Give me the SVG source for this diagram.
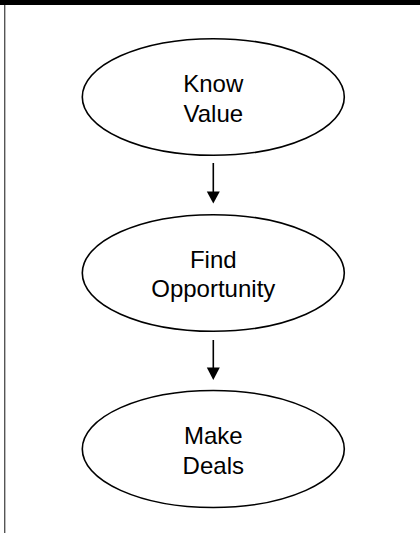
<svg xmlns="http://www.w3.org/2000/svg" width="420" height="533" viewBox="0 0 420 533">
<defs>
<style>
.node ellipse{fill:#fff;stroke:#000;stroke-width:1.6}
.node text{font-family:"Liberation Sans",Arial,sans-serif;font-size:24px;fill:#000;text-anchor:middle}
.conn line{stroke:#000;stroke-width:1.6}
.conn polygon{fill:#000}
</style>
</defs>
<rect x="0" y="0" width="420" height="533" fill="#fff"/>
<rect x="0" y="0" width="420" height="5" fill="#000"/>
<rect x="4" y="5" width="1.4" height="528" fill="#555"/>
<g id="know-value" class="node">
<ellipse cx="213.3" cy="97" rx="131" ry="58.3"/>
<text x="213.3" y="92.3">Know</text>
<text x="213.3" y="121.7">Value</text>
</g>
<g id="find-opportunity" class="node">
<ellipse cx="213.3" cy="273" rx="131" ry="58.3"/>
<text x="213.3" y="268">Find</text>
<text x="213.3" y="297.4">Opportunity</text>
</g>
<g id="make-deals" class="node">
<ellipse cx="213.3" cy="449" rx="131" ry="58.5"/>
<text x="213.3" y="444.3">Make</text>
<text x="213.3" y="473.7">Deals</text>
</g>
<g id="connectors" class="conn">
<line x1="213.3" y1="163" x2="213.3" y2="193"/>
<polygon points="206.8,191.5 219.8,191.5 213.3,203.5"/>
<line x1="213.3" y1="340" x2="213.3" y2="369"/>
<polygon points="206.8,367.5 219.8,367.5 213.3,380"/>
</g>
</svg>
